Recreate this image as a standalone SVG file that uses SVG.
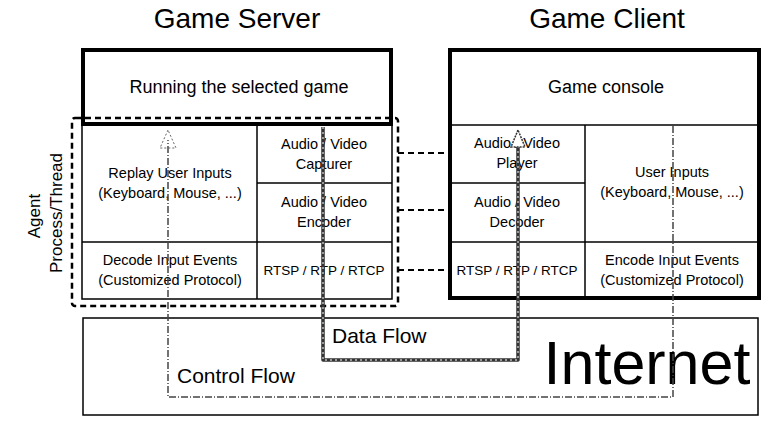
<svg xmlns="http://www.w3.org/2000/svg" width="781" height="421" viewBox="0 0 781 421">
<defs>
<style>
text{font-family:"Liberation Sans",Arial,sans-serif;fill:#000;text-anchor:middle}
.cell{font-size:14.5px}
.title{font-size:28px}
.thick{fill:none;stroke:#000;stroke-width:4}
.thin{fill:none;stroke:#000;stroke-width:1.5}
.dash{fill:none;stroke:#000;stroke-width:2.5;stroke-dasharray:6 4}
</style>
</defs>
<rect width="781" height="421" fill="#fff"/>
<text class="title" x="237" y="28">Game Server</text>
<text class="title" x="607" y="28">Game Client</text>

<g id="server">
<g id="server-game">
<rect class="thick" x="83" y="50" width="308" height="74"/>
<text x="239" y="93" style="font-size:18px">Running the selected game</text>
</g>
<g id="server-cells">
<rect class="thin" x="82" y="125" width="310" height="174"/>
<line class="thin" x1="257" y1="125" x2="257" y2="299"/>
<line class="thin" x1="257" y1="183" x2="392" y2="183"/>
<line class="thin" x1="82" y1="242" x2="392" y2="242"/>
</g>
<g id="replay"><text class="cell" x="170" y="178">Replay User Inputs</text><text class="cell" x="170" y="198">(Keyboard, Mouse, ...)</text></g>
<g id="capturer"><text class="cell" x="324" y="149">Audio / Video</text><text class="cell" x="324" y="169">Capturer</text></g>
<g id="encoder"><text class="cell" x="324" y="207">Audio / Video</text><text class="cell" x="324" y="227">Encoder</text></g>
<g id="decode-input"><text class="cell" x="170" y="265">Decode Input Events</text><text class="cell" x="170" y="285">(Customized Protocol)</text></g>
<g id="server-rtsp"><text class="cell" x="324" y="275" style="font-size:13.5px">RTSP / RTP / RTCP</text></g>
</g>

<g id="agent">
<rect class="dash" x="72" y="118" width="326" height="188" rx="3"/>
<text x="0" y="0" transform="translate(40,216) rotate(-90)" style="font-size:17px">Agent</text>
<text x="0" y="0" transform="translate(62,213) rotate(-90)" style="font-size:17px">Process/Thread</text>
</g>

<g id="client">
<rect class="thick" x="450" y="50" width="309" height="248"/>
<line class="thin" x1="450" y1="125" x2="759" y2="125"/>
<line class="thin" x1="585" y1="125" x2="585" y2="298"/>
<line class="thin" x1="450" y1="183" x2="585" y2="183"/>
<line class="thin" x1="450" y1="242" x2="759" y2="242"/>
<g id="console"><text x="606" y="93" style="font-size:18px">Game console</text></g>
<g id="player"><text class="cell" x="517" y="148">Audio / Video</text><text class="cell" x="517" y="168">Player</text></g>
<g id="decoder"><text class="cell" x="517" y="207">Audio / Video</text><text class="cell" x="517" y="227">Decoder</text></g>
<g id="client-rtsp"><text class="cell" x="517" y="275" style="font-size:13.5px">RTSP / RTP / RTCP</text></g>
<g id="user-inputs"><text class="cell" x="672" y="177">User Inputs</text><text class="cell" x="672" y="197">(Keyboard, Mouse, ...)</text></g>
<g id="encode-input"><text class="cell" x="672" y="265">Encode Input Events</text><text class="cell" x="672" y="285">(Customized Protocol)</text></g>
</g>

<g id="internet">
<rect x="83" y="318" width="675" height="97" fill="none" stroke="#000" stroke-width="1.5"/>
<text x="647" y="384" style="font-size:61px">Internet</text>
</g>

<g id="connectors">
<line class="dash" x1="398" y1="153" x2="450" y2="153" style="stroke-width:2"/>
<line class="dash" x1="398" y1="210" x2="450" y2="210" style="stroke-width:2"/>
<line class="dash" x1="398" y1="270" x2="450" y2="270" style="stroke-width:2"/>
<g id="data-flow">
<path d="M323,127 V360 H518 V140" fill="none" stroke="#333" stroke-width="3.5" stroke-linejoin="round"/>
<path d="M323,127 V360 H518 V140" fill="none" stroke="#fff" stroke-width="1" stroke-dasharray="2 3"/>
<path d="M518,130 L511,147 L525,147 Z" fill="#fff" stroke="#333" stroke-width="1.5" stroke-dasharray="2 1"/>
<text x="332" y="343" style="font-size:21px;text-anchor:start">Data Flow</text>
</g>
<g id="control-flow">
<path d="M673,126 V397 H168 V140" fill="none" stroke="#444" stroke-width="1.5" stroke-dasharray="7 2 1 2"/>
<path d="M168,130 L160,148 L176,148 Z" fill="none" stroke="#666" stroke-width="1" stroke-dasharray="2 2"/>
<text x="177" y="383" style="font-size:21px;text-anchor:start">Control Flow</text>
</g>
</g>
</svg>
